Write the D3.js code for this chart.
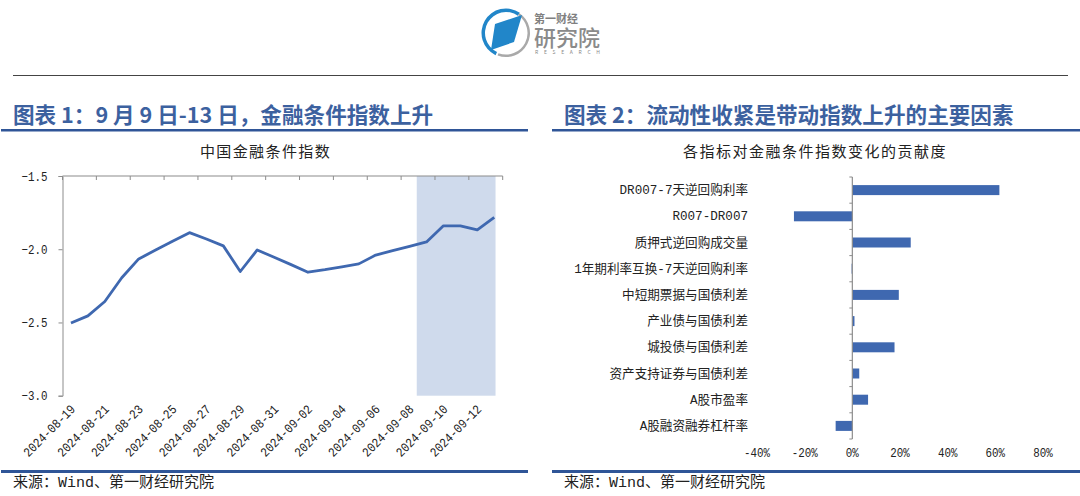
<!DOCTYPE html>
<html>
<head>
<meta charset="utf-8">
<script src="https://cdn.jsdelivr.net/npm/d3@7"></script>
<style>
html, body { margin: 0; padding: 0; background: #fff; }
svg { display: block; }
text { font-family: "Liberation Mono", "Noto Sans CJK SC", sans-serif; fill: #222; }
.title { font-family: "Noto Sans CJK SC", sans-serif; }
</style>
</head>
<body>
<svg width="1080" height="496"></svg>
<script>
let dates = ["2024-08-19","2024-08-20","2024-08-21","2024-08-22","2024-08-23","2024-08-24","2024-08-25","2024-08-26",
  "2024-08-27","2024-08-28","2024-08-29","2024-08-30","2024-08-31","2024-09-01","2024-09-02","2024-09-03",
  "2024-09-04","2024-09-05","2024-09-06","2024-09-07","2024-09-08","2024-09-09","2024-09-10","2024-09-11",
  "2024-09-12","2024-09-13"]
let index_values = [-2.504,-2.455,-2.357,-2.195,-2.066,-2.006,-1.946,-1.887,
  -1.93,-1.977,-2.152,-2.005,-2.055,-2.105,-2.157,-2.14,
  -2.12,-2.10,-2.04,-2.01,-1.98,-1.95,-1.84,-1.84,
  -1.868,-1.782]
let band_dates = ["2024-09-09","2024-09-13"]
let y_ticks = [-1.5,-2.0,-2.5,-3.0]

let factors = ["DR007-7天逆回购利率","R007-DR007","质押式逆回购成交量","1年期利率互换-7天逆回购利率","中短期票据与国债利差",
  "产业债与国债利差","城投债与国债利差","资产支持证券与国债利差","A股市盈率","A股融资融券杠杆率"]
let contributions = [61.7,-24.5,24.5,-0.3,19.5,0.9,17.7,2.9,6.6,-7]
let pct_ticks = [-40,-20,0,20,40,60,80]

let blue = "#3f68b0"
let navy = "#2f5597"
let axis_grey = "#8c8c8c"
let svg = d3.select("svg")

// page furniture
function header(x, w, title, titleX) {
    svg.append("text").attr("class", "title").attr("x", titleX).attr("y", 123).text(title)
        .attr("font-size", 21.6).attr("font-weight", 700).style("fill", "#3c619f")
    svg.append("rect").attr("x", x).attr("y", 129).attr("width", w).attr("height", 2.5).attr("fill", navy)
    svg.append("rect").attr("x", x).attr("y", 470).attr("width", w).attr("height", 3).attr("fill", navy)
    svg.append("text").attr("x", titleX).attr("y", 487).text("来源：Wind、第一财经研究院")
        .attr("font-size", 15)
}
header(1, 527, "图表 1：9 月 9 日-13 日，金融条件指数上升", 13)
header(552, 528, "图表 2：流动性收紧是带动指数上升的主要因素", 564)
svg.append("rect").attr("x", 13).attr("y", 75).attr("width", 1055).attr("height", 1).attr("fill", "#444")

// logo
let logo = svg.append("g").attr("transform", "translate(506,33)")
logo.append("path").attr("d", d3.arc()({innerRadius: 21, outerRadius: 24.5, startAngle: -2.7, endAngle: 0.6})).attr("fill", "#2186c9")
logo.append("path").attr("d", d3.arc()({innerRadius: 21.5, outerRadius: 24, startAngle: 0.6, endAngle: 3.5})).attr("fill", "#a9a9a9")
logo.append("path").attr("d", "M-11,-9 L16,-18 L8,9 L-15,17 Z").attr("fill", "#2186c9")
svg.append("text").attr("class", "title").attr("x", 534).attr("y", 23).text("第一财经").attr("font-size", 11).attr("font-weight", 700).style("fill", "#808080")
svg.append("text").attr("class", "title").attr("x", 534).attr("y", 46).text("研究院").attr("font-size", 22).attr("font-weight", 500).style("fill", "#8a8a8a")
svg.append("text").attr("class", "title").attr("x", 535).attr("y", 54).text("RESEARCH").attr("font-size", 5).attr("textLength", 65).style("fill", "#888")

// left chart
svg.append("text").attr("class", "title").attr("x", 265.5).attr("y", 157).attr("text-anchor", "middle")
    .attr("font-size", 15).attr("letter-spacing", 1.4).text("中国金融条件指数")

let x = d3.scaleBand().domain(dates).range([62.5, 502.7])
let y = d3.scaleLinear().domain([-3, -1.5]).range([395.7, 176])

svg.append("rect")
    .attr("x", x(band_dates[0]) - 1.3)
    .attr("width", x(band_dates[1]) + x.bandwidth() / 2 + 1.3 - x(band_dates[0]) + 1.3)
    .attr("y", y(-1.5))
    .attr("height", y(-3) - y(-1.5))
    .attr("fill", "#cfdaec")

let y_axis = svg.append("g").attr("transform", "translate(62.5,0)")
    .call(d3.axisLeft(y).tickValues(y_ticks).tickSize(4).tickPadding(11).tickFormat(d => d3.format(".1f")(d).replace("-", "−")))
y_axis.selectAll("path,line").attr("stroke", axis_grey)
y_axis.selectAll("text").attr("font-size", 13).attr("fill", "#222")
    .attr("textLength", 26).attr("lengthAdjust", "spacingAndGlyphs")

// top axis line with ticks every second day, labels are written at the bottom
let tick_dates = dates.filter((d, i) => i % 2 == 0)
svg.append("line").attr("x1", 62.5).attr("x2", 502.7).attr("y1", y(-1.5)).attr("y2", y(-1.5)).attr("stroke", axis_grey).attr("stroke-width", 1.2)
svg.selectAll(".xtick").data(tick_dates.concat(["end"])).enter().append("line")
    .attr("class", "xtick")
    .attr("x1", d => d == "end" ? 502.7 : x(d)).attr("x2", d => d == "end" ? 502.7 : x(d))
    .attr("y1", y(-1.5)).attr("y2", y(-1.5) + 4)
    .attr("stroke", axis_grey)
svg.selectAll(".xlabel").data(tick_dates).enter().append("text")
    .attr("class", "xlabel")
    .attr("text-anchor", "end")
    .attr("font-size", 13)
    .attr("textLength", 67).attr("lengthAdjust", "spacingAndGlyphs")
    .attr("transform", d => "translate(" + (x(d) + x.bandwidth() / 2 + 5) + ",410) rotate(-45)")
    .text(d => d)

svg.append("path").datum(index_values)
    .attr("fill", "none").attr("stroke", blue).attr("stroke-width", 2.8).attr("stroke-linejoin", "round")
    .attr("d", d3.line().x((d, i) => x(dates[i]) + x.bandwidth() / 2).y(d => y(d)))

// right chart
svg.append("text").attr("class", "title").attr("x", 815).attr("y", 157).attr("text-anchor", "middle")
    .attr("font-size", 15).attr("letter-spacing", 1.5).text("各指标对金融条件指数变化的贡献度")

let bx = d3.scaleLinear().domain([-40, 80]).range([757, 1043])
let by = d3.scaleBand().domain(factors).range([177, 439])

svg.selectAll(".bar").data(contributions).enter().append("rect")
    .attr("class", "bar")
    .attr("x", d => bx(Math.min(0, d)))
    .attr("width", d => Math.abs(bx(d) - bx(0)))
    .attr("y", (d, i) => by(factors[i]) + by.bandwidth() / 2 - 5)
    .attr("height", 10)
    .attr("fill", blue)

svg.append("line").attr("x1", bx(0)).attr("x2", bx(0)).attr("y1", 177).attr("y2", 439).attr("stroke", axis_grey).attr("stroke-width", 1.2)
svg.selectAll(".ytick").data(factors.concat(["end"])).enter().append("line")
    .attr("class", "ytick")
    .attr("x1", bx(0) - 3).attr("x2", bx(0))
    .attr("y1", d => d == "end" ? 439 : by(d)).attr("y2", d => d == "end" ? 439 : by(d))
    .attr("stroke", axis_grey)
svg.selectAll(".factor").data(factors).enter().append("text")
    .attr("class", "factor")
    .attr("x", 748).attr("text-anchor", "end").attr("font-size", 12.6)
    .attr("y", d => by(d) + by.bandwidth() / 2 + 4)
    .text(d => d)
svg.selectAll(".pct").data(pct_ticks).enter().append("text")
    .attr("class", "pct")
    .attr("x", d => bx(d)).attr("y", 457).attr("text-anchor", "middle").attr("font-size", 12.5)
    .attr("textLength", d => (d + "%").length * 6.5).attr("lengthAdjust", "spacingAndGlyphs")
    .text(d => d + "%")
</script>
</body>
</html>
